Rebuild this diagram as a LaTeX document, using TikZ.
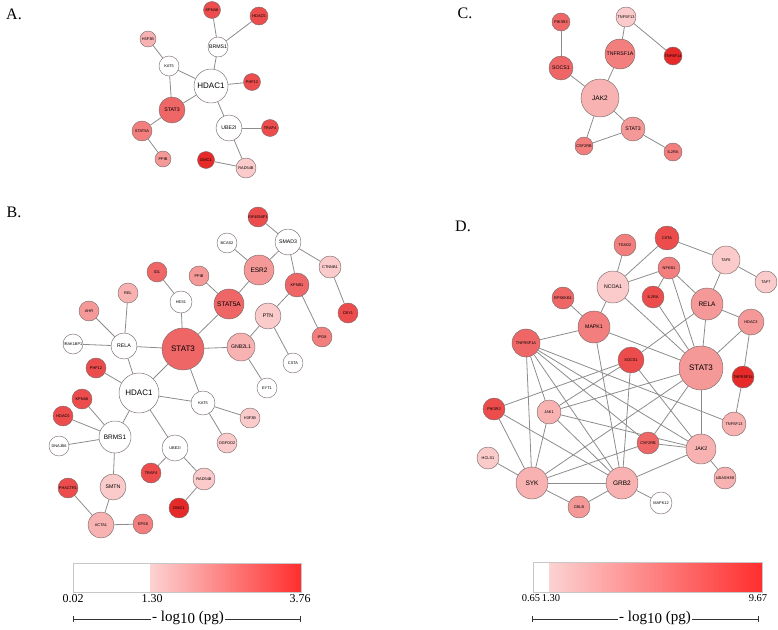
\documentclass[tikz,border=0pt]{standalone}
\usepackage{fontspec}
\setmainfont{Liberation Serif}
\setsansfont{Liberation Sans}
\usetikzlibrary{backgrounds}

% node shades, white to deep red
\definecolor{p0}{HTML}{FFFFFF}
\definecolor{p1}{HTML}{FBCACA}
\definecolor{p2}{HTML}{F8B2B2}
\definecolor{p3}{HTML}{F59898}
\definecolor{p4}{HTML}{F27E7E}
\definecolor{p5}{HTML}{EF6666}
\definecolor{p6}{HTML}{EC4C4C}
\definecolor{p7}{HTML}{E62A2A}
\definecolor{rim}{HTML}{7A6A6A}
\definecolor{edgegray}{HTML}{8C8C8C}
\definecolor{barlo}{HTML}{FCD2D2}
\definecolor{barhi}{HTML}{FF2E2E}

\newcommand{\logpg}{- log\raisebox{-0.3ex}{10} (pg)}

\begin{document}
\begin{tikzpicture}[
  x=1pt, y=-1pt,
  gene/.style={circle, draw=rim, line width=0.45pt, inner sep=0pt, minimum size=#1,
    font=\sffamily\fontsize{3.9}{4}\selectfont},
  f2/.style={font=\sffamily\fontsize{5.2}{6}\selectfont},
  f3/.style={font=\sffamily\fontsize{6.5}{7}\selectfont},
  f4/.style={font=\sffamily\fontsize{8}{9}\selectfont},
  link/.style={draw=edgegray, line width=0.8pt},
  tag/.style={font=\fontsize{16}{18}\selectfont},
  tick/.style={font=\fontsize{12}{14}\selectfont, anchor=north, inner sep=1pt},
  axis/.style={draw=black!80, line width=0.6pt},
  title/.style={fill=white, inner sep=1.5pt, font=\fontsize{15}{17}\selectfont},
]
  \useasboundingbox (0,0) rectangle (778,629);

  % Panel letters
  \node[tag] (labA) at (14,14) {A.};
  \node[tag] (labB) at (14,212) {B.};
  \node[tag] (labC) at (465,13) {C.};
  \node[tag] (labD) at (463,226) {D.};

  % Panel A
  \node[gene=17, fill=p6] (aKPNA6) at (212,10) {KPNA6};
  \node[gene=18, fill=p6] (aHDAC5) at (259,16) {HDAC5};
  \node[gene=20, fill=p0, f2] (aBRMS1) at (218,47) {BRMS1};
  \node[gene=16, fill=p2] (aH3F3B) at (148,39) {H3F3B};
  \node[gene=20, fill=p0] (aKAT5) at (169,66) {KAT5};
  \node[gene=34, fill=p0, f4] (aHDAC1) at (211,86) {HDAC1};
  \node[gene=17, fill=p6] (aPHF12) at (252,82) {PHF12};
  \node[gene=26, fill=p5, f2] (aSTAT3) at (172,110) {STAT3};
  \node[gene=20, fill=p4] (aSTAT5A) at (142,131) {STAT5A};
  \node[gene=26, fill=p0, f2] (aUBE2I) at (229,128) {UBE2I};
  \node[gene=17, fill=p6] (aTRAF4) at (270,128) {TRAF4};
  \node[gene=16, fill=p3] (aPPIB) at (163,159) {PPIB};
  \node[gene=17, fill=p7] (aDMC1) at (206,160) {DMC1};
  \node[gene=20, fill=p1] (aRAD54B) at (246,168) {RAD54B};

  % Panel C
  \node[gene=18, fill=p5] (cPIK3R2) at (561,22) {PIK3R2};
  \node[gene=24, fill=p5, f2] (cSOCS1) at (561,68) {SOCS1};
  \node[gene=20, fill=p1] (cTNFSF13) at (626,17) {TNFSF13};
  \node[gene=30, fill=p4, f2] (cTNFRSF1A) at (620,54) {TNFRSF1A};
  \node[gene=18, fill=p7] (cTNFSF14) at (673,56) {TNFSF14};
  \node[gene=38, fill=p2, f3] (cJAK2) at (600,98) {JAK2};
  \node[gene=24, fill=p3, f2] (cSTAT3) at (633,129) {STAT3};
  \node[gene=18, fill=p4] (cCSF2RB) at (584,146) {CSF2RB};
  \node[gene=18, fill=p4] (cIL2RA) at (673,152) {IL2RA};

  % Panel B
  \node[gene=20, fill=p6] (bEIF4ENIF1) at (258,217) {EIF4ENIF1};
  \node[gene=20, fill=p0] (bBCAS2) at (227,243) {BCAS2};
  \node[gene=26, fill=p0, f2] (bSMAD3) at (288,242) {SMAD3};
  \node[gene=30, fill=p3, f3] (bESR2) at (259,270) {ESR2};
  \node[gene=22, fill=p1] (bCTNNB1) at (330,267) {CTNNB1};
  \node[gene=24, fill=p5] (bKPNB1) at (297,285) {KPNB1};
  \node[gene=30, fill=p5, f3] (bSTAT5A) at (229,304) {STAT5A};
  \node[gene=20, fill=p3] (bPPIB) at (199,276) {PPIB};
  \node[gene=20, fill=p5] (bID1) at (157,272) {ID1};
  \node[gene=22, fill=p0] (bHES1) at (181,302) {HES1};
  \node[gene=20, fill=p2] (bREL) at (128,293) {REL};
  \node[gene=20, fill=p3] (bAHR) at (89,311) {AHR};
  \node[gene=20, fill=p0] (bIRAK1BP1) at (73,344) {IRAK1BP1};
  \node[gene=26, fill=p0, f2] (bRELA) at (124,346) {RELA};
  \node[gene=42, fill=p5, f4] (bSTAT3) at (183,349) {STAT3};
  \node[gene=26, fill=p1, f2] (bPTN) at (268,316) {PTN};
  \node[gene=20, fill=p6] (bCBY1) at (348,313) {CBY1};
  \node[gene=20, fill=p4] (bIPO8) at (322,337) {IPO8};
  \node[gene=28, fill=p2, f2] (bGNB2L1) at (241,347) {GNB2L1};
  \node[gene=20, fill=p0] (bCSTA) at (293,363) {CSTA};
  \node[gene=20, fill=p0] (bEYT1) at (267,388) {EYT1};
  \node[gene=20, fill=p6] (bPHF12) at (96,368) {PHF12};
  \node[gene=40, fill=p0, f4] (bHDAC1) at (139,393) {HDAC1};
  \node[gene=24, fill=p0] (bKAT5) at (203,403) {KAT5};
  \node[gene=20, fill=p1] (bH3F3B) at (250,418) {H3F3B};
  \node[gene=20, fill=p1] (bOGFOD2) at (227,443) {OGFOD2};
  \node[gene=20, fill=p6] (bKPNA6) at (82,399) {KPNA6};
  \node[gene=20, fill=p6] (bHDAC5) at (63,416) {HDAC5};
  \node[gene=32, fill=p0, f3] (bBRMS1) at (115,437) {BRMS1};
  \node[gene=20, fill=p0] (bDNAJB6) at (59,446) {DNAJB6};
  \node[gene=26, fill=p0] (bUBE2I) at (175,448) {UBE2I};
  \node[gene=20, fill=p6] (bTRAF4) at (151,473) {TRAF4};
  \node[gene=26, fill=p1, f2] (bSMTN) at (113,487) {SMTN};
  \node[gene=20, fill=p6] (bPHACTR1) at (68,488) {PHACTR1};
  \node[gene=22, fill=p1] (bRAD54B) at (204,479) {RAD54B};
  \node[gene=20, fill=p7] (bDMC1) at (179,508) {DMC1};
  \node[gene=26, fill=p2] (bACTA1) at (101,525) {ACTA1};
  \node[gene=20, fill=p4] (bEPS8) at (143,524) {EPS8};

  % Panel D
  \node[gene=22, fill=p4] (dTEAD2) at (625,245) {TEAD2};
  \node[gene=24, fill=p6] (dCIITA) at (667,238) {CIITA};
  \node[gene=22, fill=p4] (dNFKB1) at (669,268) {NFKB1};
  \node[gene=28, fill=p1] (dTAF6) at (726,260) {TAF6};
  \node[gene=22, fill=p1] (dTAF7) at (766,282) {TAF7};
  \node[gene=32, fill=p1, f2] (dNCOA1) at (613,287) {NCOA1};
  \node[gene=22, fill=p6] (dIL2RA) at (653,297) {IL2RA};
  \node[gene=32, fill=p3, f3] (dRELA) at (707,304) {RELA};
  \node[gene=26, fill=p3] (dHDAC3) at (751,322) {HDAC3};
  \node[gene=22, fill=p5] (dRPS6KB1) at (563,298) {RPS6KB1};
  \node[gene=32, fill=p4, f2] (dMAPK1) at (594,327) {MAPK1};
  \node[gene=28, fill=p5] (dTNFRSF1A) at (526,343) {TNFRSF1A};
  \node[gene=26, fill=p6] (dSOCS1) at (631,360) {SOCS1};
  \node[gene=44, fill=p3, f4] (dSTAT3) at (701,368) {STAT3};
  \node[gene=22, fill=p7] (dTNFRSF14) at (743,377) {TNFRSF14};
  \node[gene=22, fill=p6] (dPIK3R2) at (494,409) {PIK3R2};
  \node[gene=24, fill=p2] (dJAK1) at (549,412) {JAK1};
  \node[gene=24, fill=p2] (dTNFSF13) at (734,424) {TNFSF13};
  \node[gene=22, fill=p5] (dCSF2RB) at (648,443) {CSF2RB};
  \node[gene=30, fill=p2, f2] (dJAK2) at (701,449) {JAK2};
  \node[gene=22, fill=p1] (dHCLS1) at (488,458) {HCLS1};
  \node[gene=32, fill=p2, f3] (dSYK) at (532,483) {SYK};
  \node[gene=32, fill=p2, f3] (dGRB2) at (622,483) {GRB2};
  \node[gene=22, fill=p2] (dUBASH3B) at (725,478) {UBASH3B};
  \node[gene=22, fill=p3] (dCBLB) at (579,507) {CBLB};
  \node[gene=22, fill=p0] (dMAPK12) at (661,503) {MAPK12};

  % Links behind the nodes
  \begin{scope}[on background layer]
    \foreach \s/\t in {aKPNA6/aBRMS1, aHDAC5/aBRMS1, aBRMS1/aHDAC1, aH3F3B/aKAT5,
        aKAT5/aHDAC1, aKAT5/aSTAT3, aHDAC1/aPHF12, aHDAC1/aSTAT3, aHDAC1/aUBE2I,
        aUBE2I/aTRAF4, aUBE2I/aRAD54B, aSTAT3/aSTAT5A, aSTAT5A/aPPIB, aDMC1/aRAD54B}
      \draw[link] (\s) -- (\t);
    \foreach \s/\t in {cPIK3R2/cSOCS1, cSOCS1/cJAK2, cJAK2/cTNFRSF1A, cTNFRSF1A/cTNFSF13,
        cTNFSF13/cTNFSF14, cJAK2/cSTAT3, cJAK2/cCSF2RB, cCSF2RB/cSTAT3, cSTAT3/cIL2RA}
      \draw[link] (\s) -- (\t);
    \foreach \s/\t in {bSTAT3/bRELA, bSTAT3/bHES1, bHES1/bID1, bSTAT3/bSTAT5A,
        bSTAT5A/bPPIB, bSTAT5A/bESR2, bESR2/bBCAS2, bESR2/bSMAD3, bSMAD3/bEIF4ENIF1,
        bSMAD3/bKPNB1, bSMAD3/bCTNNB1, bCTNNB1/bCBY1, bKPNB1/bPTN, bKPNB1/bIPO8,
        bPTN/bGNB2L1, bPTN/bCSTA, bGNB2L1/bSTAT3, bGNB2L1/bEYT1, bSTAT3/bKAT5,
        bSTAT3/bHDAC1, bRELA/bREL, bRELA/bAHR, bRELA/bIRAK1BP1, bRELA/bHDAC1,
        bHDAC1/bPHF12, bHDAC1/bBRMS1, bHDAC1/bKAT5, bHDAC1/bUBE2I, bBRMS1/bKPNA6,
        bBRMS1/bHDAC5, bBRMS1/bDNAJB6, bBRMS1/bSMTN, bSMTN/bACTA1, bACTA1/bPHACTR1,
        bACTA1/bEPS8, bUBE2I/bTRAF4, bUBE2I/bRAD54B, bRAD54B/bDMC1, bKAT5/bH3F3B,
        bKAT5/bOGFOD2}
      \draw[link] (\s) -- (\t);
    \foreach \s/\t in {dTEAD2/dNCOA1, dCIITA/dNCOA1, dCIITA/dTAF6, dTAF6/dTAF7,
        dTAF6/dRELA, dNFKB1/dNCOA1, dNFKB1/dIL2RA, dNFKB1/dRELA, dNFKB1/dSTAT3,
        dIL2RA/dSTAT3, dNCOA1/dMAPK1, dNCOA1/dSTAT3, dRELA/dSTAT3, dRELA/dHDAC3,
        dRELA/dSOCS1, dHDAC3/dSTAT3, dHDAC3/dTNFRSF14, dTNFRSF14/dTNFSF13,
        dRPS6KB1/dMAPK1, dMAPK1/dTNFRSF1A, dMAPK1/dSTAT3, dMAPK1/dGRB2,
        dTNFRSF1A/dSYK, dTNFRSF1A/dJAK1, dTNFRSF1A/dTNFSF13, dTNFRSF1A/dJAK2,
        dTNFRSF1A/dGRB2, dTNFRSF1A/dCSF2RB, dPIK3R2/dSOCS1, dPIK3R2/dSYK,
        dPIK3R2/dGRB2, dJAK1/dSYK, dJAK1/dGRB2, dJAK1/dJAK2, dJAK1/dSTAT3,
        dJAK1/dSOCS1, dSYK/dHCLS1, dSYK/dCBLB, dSYK/dGRB2, dSYK/dSTAT3,
        dSYK/dCSF2RB, dGRB2/dCBLB, dGRB2/dMAPK12, dGRB2/dJAK2, dGRB2/dSOCS1,
        dSTAT3/dJAK2, dSTAT3/dCSF2RB, dCSF2RB/dJAK2, dSOCS1/dJAK2, dJAK2/dUBASH3B}
      \draw[link] (\s) -- (\t);
  \end{scope}

  % Colour key for B
  \fill[white] (73,563) rectangle (150,592);
  \shade[left color=barlo, right color=barhi] (150,563) rectangle (301,592);
  \draw[black!22, line width=0.8pt] (73,563) rectangle (301,592);
  \node[tick] (kB1) at (73,593) {0.02};
  \node[tick] (kB2) at (152,593) {1.30};
  \node[tick] (kB3) at (300,593) {3.76};
  \coordinate (axB0) at (73,619);
  \coordinate (axB1) at (301,619);
  \draw[axis, |-|] (axB0) -- (axB1);
  \node[title] (ttlB) at (188,618) {\logpg};

  % Colour key for D
  \fill[white] (533,562) rectangle (549,592);
  \shade[left color=barlo, right color=barhi] (549,562) rectangle (762,592);
  \draw[black!22, line width=0.8pt] (533,562) rectangle (762,592);
  \node[tick, font=\fontsize{10.5}{12}\selectfont] (kD1) at (531,593) {0.65};
  \node[tick, font=\fontsize{10.5}{12}\selectfont] (kD2) at (551,593) {1.30};
  \node[tick, font=\fontsize{10.5}{12}\selectfont] (kD3) at (758,593) {9.67};
  \coordinate (axD0) at (532,619);
  \coordinate (axD1) at (759,619);
  \draw[axis, |-|] (axD0) -- (axD1);
  \node[title] (ttlD) at (655,618) {\logpg};

\end{tikzpicture}
\end{document}
